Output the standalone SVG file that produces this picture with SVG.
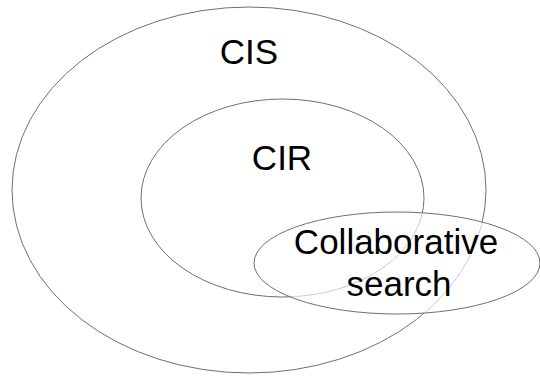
<svg xmlns="http://www.w3.org/2000/svg" width="540" height="376" viewBox="0 0 540 376">
<style>
.e{stroke:#707070;stroke-width:1;}
.t{font-family:"Liberation Sans",Arial,sans-serif;font-size:35px;fill:#000;text-anchor:middle;}
</style>
<rect width="540" height="376" fill="#fff"/>
<g id="cis">
<ellipse class="e" cx="249" cy="190" rx="237" ry="183" fill="none"/>
<text class="t" x="249" y="64">CIS</text>
</g>
<g id="cir">
<ellipse class="e" cx="282.5" cy="198" rx="141.5" ry="99" fill="none"/>
<text class="t" x="282" y="170">CIR</text>
</g>
<g id="collab">
<ellipse class="e" cx="397" cy="263" rx="143" ry="51" fill="#fff" fill-opacity="0.65"/>
<text class="t" x="396" y="254">Collaborative</text>
<text class="t" x="399" y="296">search</text>
</g>
<g id="connectors"></g>
</svg>
